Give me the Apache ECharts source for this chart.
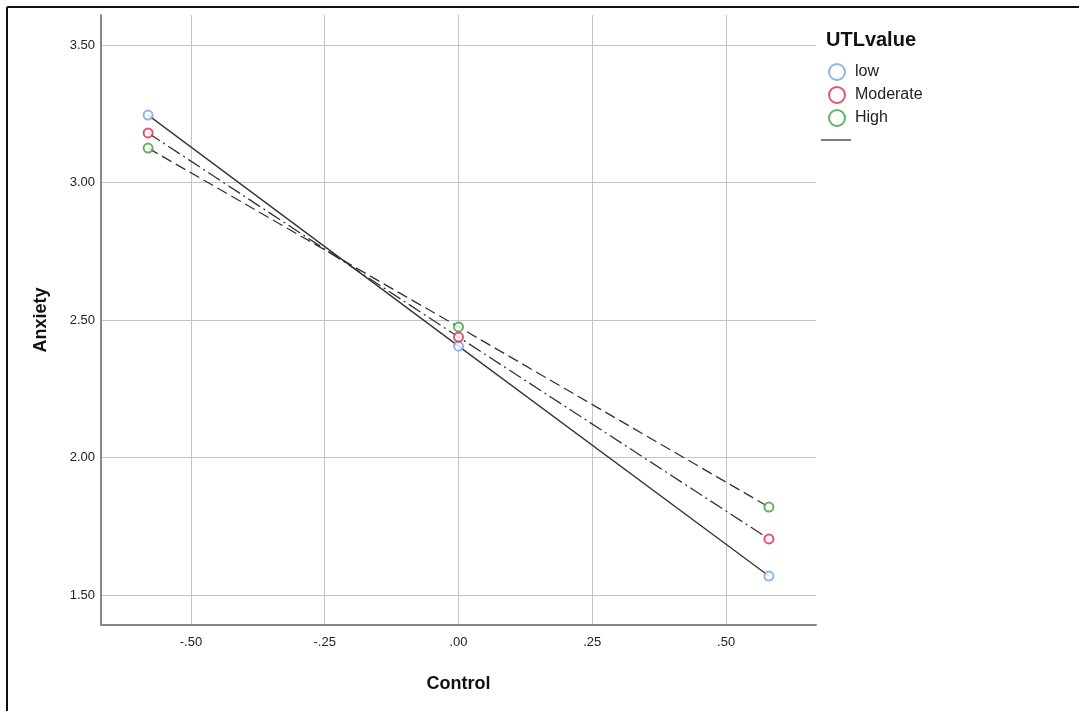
<!DOCTYPE html>
<html>
<head>
<meta charset="utf-8">
<script src="https://cdn.jsdelivr.net/npm/echarts@6/dist/echarts.min.js"></script>
<style>
  html, body { margin: 0; padding: 0; background: #fff; }
  #chart { width: 1079px; height: 711px; }
</style>
</head>
<body>
<div id="chart"></div>
<script>
// Control (x) positions and Anxiety values per UTL group
var controlX = [-0.58, 0, 0.58];
var lowY = [3.245, 2.405, 1.569];
var moderateY = [3.18, 2.438, 1.704];
var highY = [3.125, 2.475, 1.82];

var xTicks = [-0.5, -0.25, 0, 0.25, 0.5];
var yTicks = [1.5, 2.0, 2.5, 3.0, 3.5];

var groupNames = ['low', 'Moderate', 'High'];
var groupColors = ['#6fa3e0', '#e0284f', '#3e9b45'];

var chart = echarts.init(document.getElementById('chart'));
var FONT = "'Liberation Sans', Arial, sans-serif";

function pairs(ys) {
	return controlX.map(function (x, i) { return [x, ys[i]]; });
}

function xLabel(v) {
	var s = Math.abs(v).toFixed(2).replace(/^0/, '');
	return (v < 0 ? '-' : '') + s;
}

var groups = [lowY, moderateY, highY];
var dashTypes = ['solid', [14, 4, 2, 4], [11, 5]];

var series = [];
groups.forEach(function (ys, i) {
	series.push({
		name: groupNames[i] + ' fit',
		type: 'line',
		data: pairs(ys),
		symbol: 'none',
		silent: true,
		z: 2,
		lineStyle: { color: '#333', width: 1.3, type: dashTypes[i] }
	});
});
groups.forEach(function (ys, i) {
	series.push({
		name: groupNames[i],
		type: 'scatter',
		data: pairs(ys),
		symbol: 'emptyCircle',
		symbolSize: 9,
		z: 3,
		itemStyle: { color: groupColors[i], borderColor: groupColors[i], borderWidth: 1.3 }
	});
});

var option = {
	animation: false,
	backgroundColor: '#fff',
	textStyle: { fontFamily: FONT },
	title: {
		text: 'UTLvalue',
		left: 821,
		top: 25,
		textStyle: { fontFamily: FONT, fontSize: 20, fontWeight: 'bold', color: '#111' }
	},
	legend: {
		data: groupNames,
		orient: 'vertical',
		left: 823,
		top: 58,
		itemWidth: 16,
		itemHeight: 16,
		itemGap: 5,
		textStyle: { fontFamily: FONT, fontSize: 16, color: '#222', padding: [0, 0, 0, 5] }
	},
	grid: { left: 101, right: 263, top: 15, bottom: 86 },
	xAxis: {
		type: 'value',
		min: -0.668,
		max: 0.668,
		name: 'Control',
		nameLocation: 'middle',
		nameGap: 50,
		nameTextStyle: { fontFamily: FONT, fontSize: 18, fontWeight: 'bold', color: '#111' },
		axisLine: { onZero: false, lineStyle: { color: '#888', width: 2 } },
		axisTick: { show: false, customValues: xTicks },
		axisLabel: { customValues: xTicks, formatter: xLabel, margin: 11, fontSize: 13, color: '#222' },
		splitLine: { show: true, lineStyle: { color: '#c4c4c4', width: 1 } }
	},
	yAxis: {
		type: 'value',
		min: 1.391,
		max: 3.609,
		name: 'Anxiety',
		nameLocation: 'middle',
		nameGap: 51,
		nameTextStyle: { fontFamily: FONT, fontSize: 18, fontWeight: 'bold', color: '#111' },
		axisLine: { show: true, onZero: false, lineStyle: { color: '#888', width: 2 } },
		axisTick: { show: false, customValues: yTicks },
		axisLabel: { customValues: yTicks, formatter: function (v) { return v.toFixed(2); }, margin: 6, fontSize: 13, color: '#222' },
		splitLine: { show: true, lineStyle: { color: '#c4c4c4', width: 1 } }
	},
	graphic: [
		{ type: 'line', shape: { x1: 7, y1: 7, x2: 1079, y2: 7 }, style: { stroke: '#111', lineWidth: 2 } },
		{ type: 'line', shape: { x1: 7, y1: 7, x2: 7, y2: 711 }, style: { stroke: '#111', lineWidth: 2 } },
		{ type: 'line', shape: { x1: 821, y1: 140, x2: 851, y2: 140 }, style: { stroke: '#555', lineWidth: 1.5 } }
	],
	series: series
};

chart.setOption(option);
</script>
</body>
</html>
